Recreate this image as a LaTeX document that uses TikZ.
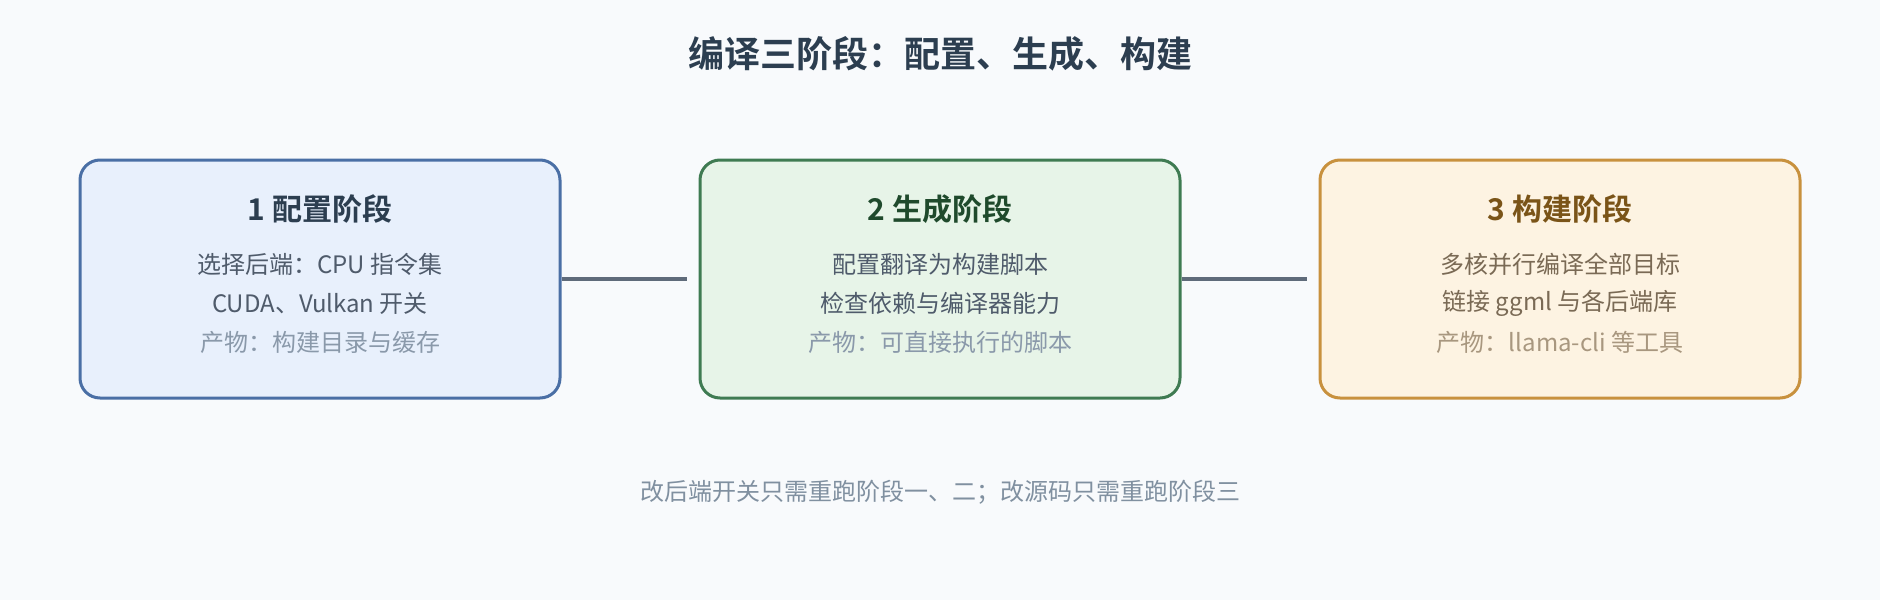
\documentclass[tikz,border=0pt]{standalone}
\usepackage{fontspec}
\setmainfont{Noto Sans CJK SC}[BoldFont={* Bold}]
\definecolor{bg}{HTML}{F8FAFC}
\definecolor{titlec}{HTML}{2C3E50}
\definecolor{bAfill}{HTML}{E8F0FC}
\definecolor{bAdraw}{HTML}{4A6FA5}
\definecolor{bBfill}{HTML}{E7F4E8}
\definecolor{bBdraw}{HTML}{3F7B52}
\definecolor{bBtitle}{HTML}{1F4A2C}
\definecolor{bCfill}{HTML}{FDF3E2}
\definecolor{bCdraw}{HTML}{C8913E}
\definecolor{bCtitle}{HTML}{7A5418}
\definecolor{bodyc}{HTML}{4F5B6B}
\definecolor{notec}{HTML}{8A99AA}
\definecolor{bCbody}{HTML}{7A6A55}
\definecolor{bCnote}{HTML}{A8977F}
\definecolor{linkc}{HTML}{5F6B7A}
\definecolor{footc}{HTML}{8090A0}
\tikzset{
  stagebox/.style={draw, line width=3pt, rounded corners=20pt, minimum width=480pt, minimum height=238pt, inner sep=0pt},
  stagetitle/.style={font=\fontsize{30}{34}\selectfont\bfseries, inner sep=0pt},
  bodytext/.style={font=\fontsize{24}{28}\selectfont, inner sep=0pt},
  link/.style={draw=linkc, line width=4pt}
}
\begin{document}
\begin{tikzpicture}[x=1pt,y=-1pt]
\fill[bg] (0,0) rectangle (1880,600);
\useasboundingbox (0,0) rectangle (1880,600);
\node[font=\fontsize{36}{40}\selectfont\bfseries, text=titlec, inner sep=0pt] (title) at (940,54) {编译三阶段：配置、生成、构建};
% boxes
\node[stagebox, fill=bAfill, draw=bAdraw] (b1) at (320,279) {};
\node[stagebox, fill=bBfill, draw=bBdraw] (b2) at (940,279) {};
\node[stagebox, fill=bCfill, draw=bCdraw] (b3) at (1560,279) {};
% box 1 text
\node[stagetitle, text=titlec] (t1) at (320,209) {1 配置阶段};
\node[bodytext, text=bodyc] (l1a) at (320,264) {选择后端：CPU 指令集};
\node[bodytext, text=bodyc] (l1b) at (320,303) {CUDA、Vulkan 开关};
\node[bodytext, text=notec] (l1c) at (320,342) {产物：构建目录与缓存};
% box 2 text
\node[stagetitle, text=bBtitle] (t2) at (940,209) {2 生成阶段};
\node[bodytext, text=bodyc] (l2a) at (940,264) {配置翻译为构建脚本};
\node[bodytext, text=bodyc] (l2b) at (940,303) {检查依赖与编译器能力};
\node[bodytext, text=notec] (l2c) at (940,342) {产物：可直接执行的脚本};
% box 3 text
\node[stagetitle, text=bCtitle] (t3) at (1560,209) {3 构建阶段};
\node[bodytext, text=bCbody] (l3a) at (1560,264) {多核并行编译全部目标};
\node[bodytext, text=bCbody] (l3b) at (1560,303) {链接 ggml 与各后端库};
\node[bodytext, text=bCnote] (l3c) at (1560,342) {产物：llama-cli 等工具};
% connectors
\draw[link] (b1.east) -- ([xshift=-12pt]b2.west);
\draw[link] (b2.east) -- ([xshift=-12pt]b3.west);
% footer
\node[font=\fontsize{24}{28}\selectfont, inner sep=0pt, text=footc] (foot) at (940,492) {改后端开关只需重跑阶段一、二；改源码只需重跑阶段三};
\end{tikzpicture}
\end{document}
